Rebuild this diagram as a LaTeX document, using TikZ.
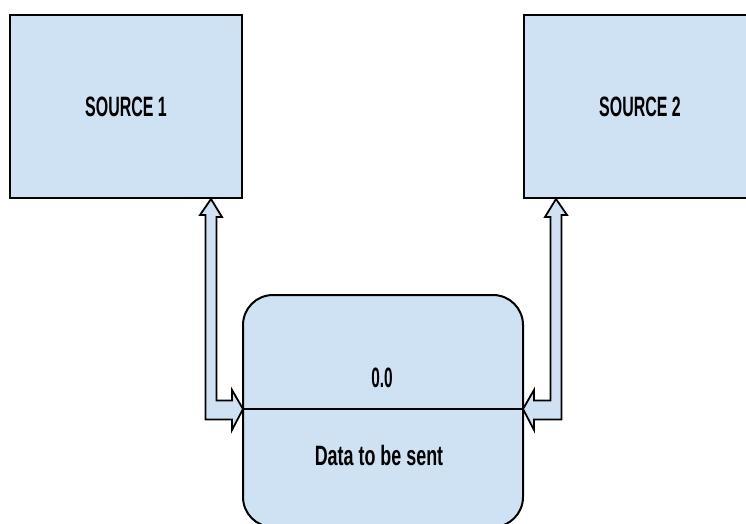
\documentclass[tikz,border=0pt]{standalone}
\usepackage{fontspec}
\usepackage{graphicx}
\setmainfont{Liberation Sans}
\usetikzlibrary{calc}
\definecolor{boxfill}{HTML}{CFE2F3}
\tikzset{
  srcbox/.style={draw=black, line width=2pt, fill=boxfill, inner sep=0pt},
  procbox/.style={draw=black, line width=2pt, fill=boxfill, rounded corners=30pt},
  hollowarrow/.style={draw=black, line width=1.8pt, fill=boxfill, line join=miter},
  lbl/.style={inner sep=0pt, font=\bfseries\fontsize{28}{32}\selectfont},
}
\newcommand{\narrow}[2][0.57]{\scalebox{#1}[1]{#2}}
\begin{document}
\begin{tikzpicture}[x=1pt, y=-1pt]
  \clip (0,0) rectangle (746,524);
  \fill[white] (0,0) rectangle (746,524);

  % the two sources
  \node[srcbox, minimum width=232pt, minimum height=183pt, anchor=north west] (s1) at (9,14) {};
  \node[srcbox, minimum width=250pt, minimum height=183pt, anchor=north west] (s2) at (523,14) {};
  \node[lbl] (s1t) at (126,107) {\narrow{SOURCE 1}};
  \node[lbl] (s2t) at (640,107) {\narrow{SOURCE 2}};

  % process box with divider
  \draw[procbox] (243,295) rectangle (523,527);
  \coordinate (pw) at (243,409);
  \coordinate (pe) at (523,409);
  \draw[line width=2pt] (pw) -- (pe);
  \node[lbl] (num) at (382,378) {\narrow[0.55]{0.0}};
  \node[lbl] (dat) at (379,455) {\narrow[0.64]{Data to be sent}};

  % two-headed elbow arrow: source 1 <-> process
  \coordinate (t1) at ($(s1.south west)+(202,0)$);
  \draw[hollowarrow] (t1) -- ++(11,18) -- ++(-5.5,0) -- ++(0,183.5) -- ++(15.5,0)
    -- ++(0,-10.5) -- (pw) -- ++(-11,21) -- ++(0,-10.5) -- ++(-26.5,0)
    -- ++(0,-204.5) -- ++(-5.5,0) -- cycle;

  % two-headed elbow arrow: source 2 <-> process
  \coordinate (t2) at ($(s2.south west)+(33,0)$);
  \draw[hollowarrow] (t2) -- ++(-11,18) -- ++(5.5,0) -- ++(0,183.5) -- ++(-16.5,0)
    -- ++(0,-10.5) -- (pe) -- ++(11,21) -- ++(0,-10.5) -- ++(27.5,0)
    -- ++(0,-204.5) -- ++(5.5,0) -- cycle;
\end{tikzpicture}
\end{document}
